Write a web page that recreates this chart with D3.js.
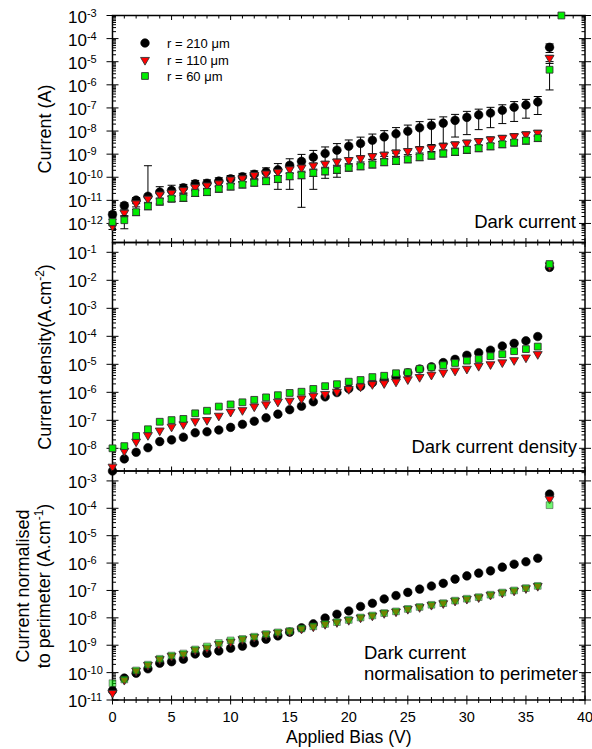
<!DOCTYPE html>
<html>
<head>
<meta charset="utf-8">
<script src="https://cdn.jsdelivr.net/npm/d3@7"></script>
<style>
  html, body { margin: 0; padding: 0; background: #fff; }
  svg text { font-family: "Liberation Sans", Arial, sans-serif; fill: #000; }
</style>
</head>
<body>
<svg id="chart" width="592" height="749"></svg>
<script>
// ---- Data -----------------------------------------------------------------
// Applied bias (V)
const bias = [0,1,2,3,4,5,6,7,8,9,10,11,12,13,14,15,16,17,18,19,20,
              21,22,23,24,25,26,27,28,29,30,31,32,33,34,35,36,37,38];

const seriesNames = ["r = 210 \u03bcm", "r = 110 \u03bcm", "r = 60 \u03bcm"];

// Dark current (A) with measurement spread (A); null = not measured
const currentR210 = [2.45e-12,6.0e-12,1.02e-11,1.5e-11,2.3e-11,2.7e-11,3.5e-11,5.2e-11,5.5e-11,6.8e-11,
  8.5e-11,1.05e-10,1.35e-10,1.7e-10,2.1e-10,3.3e-10,4.9e-10,7.4e-10,1.07e-9,1.48e-9,
  2.2e-9,2.9e-9,4.0e-9,5.6e-9,7.6e-9,9.8e-9,1.38e-8,1.74e-8,2.2e-8,2.9e-8,
  3.9e-8,5.0e-8,6.0e-8,7.9e-8,1.07e-7,1.35e-7,1.82e-7,4.2e-5,null];
const errR210 = [7e-13,1.8e-12,3e-12,3.0e-10,1.6e-11,1.8e-11,1.4e-11,2.1e-11,2.2e-11,2.7e-11,
  3.4e-11,4.2e-11,5.4e-11,8.5e-11,1.8e-10,3.0e-10,4.85e-10,7.1e-10,9.8e-10,1.38e-9,
  1.9e-9,2.55e-9,3.4e-9,4.8e-9,6.5e-9,8.3e-9,1.17e-8,1.48e-8,1.9e-8,2.35e-8,
  3.2e-8,3.85e-8,4.6e-8,5.8e-8,8.1e-8,9.9e-8,1.3e-7,1.7e-5,0];

const currentR110 = [7.8e-13,2.9e-12,7.4e-12,1.17e-11,1.78e-11,2.1e-11,2.75e-11,3.7e-11,4.4e-11,5.4e-11,
  7.9e-11,8.9e-11,1.23e-10,1.45e-10,1.7e-10,2.2e-10,2.6e-10,3.2e-10,3.8e-10,4.7e-10,
  5.5e-10,6.6e-10,8.1e-10,9.3e-10,1.15e-9,1.35e-9,1.6e-9,1.86e-9,2.2e-9,2.6e-9,
  3.1e-9,3.6e-9,4.3e-9,5.0e-9,5.9e-9,7.1e-9,8.3e-9,1.45e-5,null];
const errR110 = [2.3e-13,8.7e-13,2.2e-12,3.5e-12,5.3e-12,6.3e-12,8.3e-12,1.1e-11,1.3e-11,1.6e-11,
  2.4e-11,2.7e-11,3.7e-11,4.4e-11,5.1e-11,6.6e-11,7.8e-11,9.6e-11,1.1e-10,1.4e-10,
  1.65e-10,2.0e-10,2.4e-10,2.8e-10,3.5e-10,4.0e-10,4.8e-10,5.6e-10,6.6e-10,7.8e-10,
  9.3e-10,1.1e-9,1.3e-9,1.5e-9,1.8e-9,2.1e-9,2.5e-9,4.4e-6,0];

const currentR60 = [1.15e-12,1.38e-12,3.1e-12,5.6e-12,8.9e-12,1.2e-11,1.29e-11,2.1e-11,2.3e-11,3.2e-11,
  4.0e-11,4.9e-11,5.8e-11,6.8e-11,8.5e-11,1.12e-10,1.23e-10,1.55e-10,1.82e-10,2.1e-10,
  2.6e-10,3.0e-10,3.6e-10,4.5e-10,5.1e-10,6.0e-10,7.4e-10,8.7e-10,1.07e-9,1.26e-9,
  1.55e-9,1.82e-9,2.2e-9,2.7e-9,3.2e-9,3.9e-9,5.0e-9,4.5e-6,1e-3];
const errR60 = [3.5e-13,7.9e-13,9.3e-13,1.7e-12,2.7e-12,3.6e-12,3.9e-12,6.3e-12,6.9e-12,9.6e-12,
  1.2e-11,1.5e-11,1.7e-11,2.0e-11,2.6e-11,3.4e-11,3.7e-11,4.7e-11,5.5e-11,6.3e-11,
  7.8e-11,9.0e-11,1.1e-10,1.35e-10,1.5e-10,1.8e-10,2.2e-10,2.6e-10,3.2e-10,3.8e-10,
  4.7e-10,5.5e-10,6.6e-10,8.1e-10,9.6e-10,1.2e-9,1.5e-9,3.9e-6,0];

// Dark current density (A.cm^-2), 0 V to 37 V
const densityR210 = [1.55e-9,4.2e-9,7.2e-9,1.05e-8,1.74e-8,2.0e-8,2.5e-8,3.6e-8,3.9e-8,4.5e-8,
  5.6e-8,7.2e-8,9.3e-8,1.23e-7,1.66e-7,2.4e-7,3.2e-7,4.6e-7,6.9e-7,9.8e-7,
  1.35e-6,1.66e-6,2.2e-6,2.75e-6,3.6e-6,5.0e-6,6.8e-6,8.1e-6,1.15e-5,1.5e-5,
  2.1e-5,2.6e-5,3.2e-5,4.5e-5,5.6e-5,6.9e-5,9.8e-5,2.9e-2];
const densityR110 = [2.2e-9,8.1e-9,1.74e-8,2.95e-8,4.3e-8,5.9e-8,7.2e-8,9.3e-8,1.02e-7,1.45e-7,
  2.0e-7,2.3e-7,3.1e-7,3.7e-7,4.6e-7,5.0e-7,6.0e-7,7.4e-7,8.7e-7,1.05e-6,
  1.3e-6,1.6e-6,1.95e-6,2.1e-6,2.4e-6,2.9e-6,3.5e-6,4.2e-6,5.1e-6,5.9e-6,
  6.9e-6,8.7e-6,1.0e-5,1.17e-5,1.4e-5,1.74e-5,2.3e-5,3.4e-2];
const densityR60 = [1.0e-8,1.2e-8,2.75e-8,4.8e-8,8.9e-8,1.02e-7,1.12e-7,1.78e-7,2.2e-7,3.1e-7,
  3.7e-7,4.4e-7,5.4e-7,6.6e-7,7.9e-7,9.5e-7,1.05e-6,1.32e-6,1.66e-6,1.95e-6,
  2.4e-6,2.75e-6,3.5e-6,3.9e-6,4.8e-6,5.2e-6,6.8e-6,7.8e-6,9.3e-6,1.12e-5,
  1.35e-5,1.55e-5,1.95e-5,2.3e-5,2.95e-5,3.5e-5,4.3e-5,3.8e-2];

// Dark current normalised to perimeter (A.cm^-1), 0 V to 37 V
const perimR210 = [2.2e-11,6.3e-11,9.5e-11,1.38e-10,2.2e-10,2.5e-10,3.1e-10,4.8e-10,5.1e-10,6.2e-10,
  7.8e-10,9.3e-10,1.23e-9,1.66e-9,2.2e-9,3.0e-9,4.3e-9,6.0e-9,9.8e-9,1.35e-8,
  1.78e-8,2.6e-8,3.4e-8,4.9e-8,6.5e-8,8.5e-8,1.12e-7,1.45e-7,1.82e-7,2.6e-7,
  3.4e-7,4.3e-7,5.2e-7,7.1e-7,9.1e-7,1.12e-6,1.5e-6,3.3e-4];
const perimR110 = [1.8e-11,5.4e-11,1.17e-10,1.9e-10,3.1e-10,4.1e-10,4.8e-10,6.8e-10,8.1e-10,1.1e-9,
  1.35e-9,1.66e-9,2.0e-9,2.5e-9,2.9e-9,3.2e-9,4.0e-9,4.8e-9,5.9e-9,6.9e-9,
  8.3e-9,1.02e-8,1.2e-8,1.48e-8,1.7e-8,2.1e-8,2.45e-8,2.95e-8,3.4e-8,4.2e-8,
  4.9e-8,5.6e-8,6.9e-8,8.3e-8,9.8e-8,1.2e-7,1.45e-7,2.2e-4];
const perimR60 = [4.1e-11,5.6e-11,1.2e-10,1.95e-10,3.2e-10,4.2e-10,5.0e-10,7.0e-10,9.0e-10,1.2e-9,
  1.5e-9,1.7e-9,2.05e-9,2.55e-9,2.95e-9,3.3e-9,4.1e-9,4.9e-9,6.0e-9,7.0e-9,
  8.4e-9,1.03e-8,1.22e-8,1.5e-8,1.72e-8,2.12e-8,2.5e-8,3.0e-8,3.45e-8,4.25e-8,
  5.0e-8,5.7e-8,7.0e-8,8.4e-8,1.0e-7,1.22e-7,1.47e-7,1.3e-4];

// Axis ticks
const xTickLabels = [0,5,10,15,20,25,30,35,40];
const currentExps = [-3,-4,-5,-6,-7,-8,-9,-10,-11,-12];
const densityExps = [-1,-2,-3,-4,-5,-6,-7,-8];
const perimExps = [-3,-4,-5,-6,-7,-8,-9,-10,-11];

// ---- Layout -----------------------------------------------------------------
const svg = d3.select("#chart");
const x = d3.scaleLinear().domain([0, 40]).range([112.5, 585]);

const markerStyles = [
  { type: d3.symbolCircle, size: 58, fill: "#000000", rot: 0 },
  { type: d3.symbolTriangle, size: 34, fill: "#ff0000", rot: 180 },
  { type: d3.symbolSquare, size: 46, fill: "#00ee00", rot: 0 }
];

const panels = [
  { top: 15.5, bottom: 242.5, domain: [1.5e-13, 1e-3], exps: currentExps,
    values: [currentR210, currentR110, currentR60], errors: [errR210, errR110, errR60],
    topTicks: true, greenOpacity: 1 },
  { top: 242.5, bottom: 471, domain: [1.55e-9, 0.224], exps: densityExps,
    values: [densityR210, densityR110, densityR60], errors: null,
    topTicks: false, greenOpacity: 1 },
  { top: 471, bottom: 700, domain: [1e-11, 2.3e-3], exps: perimExps,
    values: [perimR210, perimR110, perimR60], errors: null,
    topTicks: false, greenOpacity: 0.55 }
];

function drawMarker(g, style, cx, cy, opacity) {
  g.append("path")
    .attr("d", d3.symbol().type(style.type).size(style.size)())
    .attr("transform", `translate(${cx},${cy}) rotate(${style.rot})`)
    .attr("fill", style.fill)
    .attr("fill-opacity", opacity)
    .attr("stroke", style.type === d3.symbolCircle ? "#000" : "#333")
    .attr("stroke-opacity", opacity)
    .attr("stroke-width", style.type === d3.symbolCircle ? 0.6 : 0.9);
}

panels.forEach(p => {
  const y = d3.scaleLog().domain(p.domain).range([p.bottom, p.top]);
  const g = svg.append("g");
  const x0 = x(0), x1 = x(40);

  // minor and major y ticks on both sides
  const lo = Math.floor(Math.log10(p.domain[0])), hi = Math.ceil(Math.log10(p.domain[1]));
  const ticks = g.append("g").attr("stroke", "#000").attr("stroke-width", 1);
  for (let d = lo; d <= hi; d++) {
    for (let k = 1; k <= 9; k++) {
      const v = k * Math.pow(10, d);
      if (v < p.domain[0] * 0.999 || v > p.domain[1] * 1.001) continue;
      const yy = y(v);
      if (k === 1) {
        ticks.append("line").attr("x1", x0 - 6).attr("x2", x0 + 6).attr("y1", yy).attr("y2", yy);
        ticks.append("line").attr("x1", x1 - 6).attr("x2", x1 + 6).attr("y1", yy).attr("y2", yy);
      } else {
        ticks.append("line").attr("x1", x0).attr("x2", x0 + 3.5).attr("y1", yy).attr("y2", yy);
        ticks.append("line").attr("x1", x1 - 3.5).attr("x2", x1).attr("y1", yy).attr("y2", yy);
      }
    }
  }

  // x ticks: crossing at the bottom edge, inward at the top of the first panel
  x.ticks(40).forEach(v => {
    const major = v % 5 === 0;
    const len = major ? 4.5 : 3;
    ticks.append("line").attr("x1", x(v)).attr("x2", x(v))
      .attr("y1", p.bottom - len).attr("y2", p.bottom + len);
    if (p.topTicks) {
      ticks.append("line").attr("x1", x(v)).attr("x2", x(v))
        .attr("y1", p.top).attr("y2", p.top + len);
    }
  });

  // frame
  g.append("rect")
    .attr("x", x0).attr("y", p.top)
    .attr("width", x1 - x0).attr("height", p.bottom - p.top)
    .attr("fill", "none").attr("stroke", "#000").attr("stroke-width", 1.5);

  // y tick labels 10^n
  p.exps.forEach(e => {
    const t = g.append("text").attr("x", 68).attr("y", y(Math.pow(10, e)) + 7);
    t.append("tspan").attr("font-size", 17).text("10");
    t.append("tspan").attr("font-size", 11).attr("dy", -6).text("-" + Math.abs(e));
  });

  // series: error bars then markers, one series after another
  p.values.forEach((vals, si) => {
    const style = markerStyles[si];
    const opacity = si === 2 ? p.greenOpacity : 1;
    const sg = g.append("g");
    if (p.errors) {
      const errs = p.errors[si];
      vals.forEach((v, i) => {
        const e = errs[i];
        if (v == null || !e) return;
        const cx = x(bias[i]);
        const yTop = y(v + e);
        const hasLow = v - e > 0;
        const yLow = hasLow ? y(v - e) : y(v);
        sg.append("line").attr("x1", cx).attr("x2", cx).attr("y1", yTop).attr("y2", yLow)
          .attr("stroke", "#000").attr("stroke-width", 1);
        sg.append("line").attr("x1", cx - 4).attr("x2", cx + 4).attr("y1", yTop).attr("y2", yTop)
          .attr("stroke", "#000").attr("stroke-width", 1);
        if (hasLow) {
          sg.append("line").attr("x1", cx - 4).attr("x2", cx + 4).attr("y1", yLow).attr("y2", yLow)
            .attr("stroke", "#000").attr("stroke-width", 1);
        }
      });
    }
    vals.forEach((v, i) => {
      if (v == null) return;
      drawMarker(sg, style, x(bias[i]), y(v), opacity);
    });
  });
});

// x tick labels and axis title
xTickLabels.forEach(v => {
  svg.append("text").attr("x", x(v)).attr("y", 722)
    .attr("text-anchor", "middle").attr("font-size", 14.5).text(v);
});
svg.append("text").attr("x", (x(0) + x(40)) / 2).attr("y", 743)
  .attr("text-anchor", "middle").attr("font-size", 17.5).text("Applied Bias (V)");

// y axis titles
svg.append("text").attr("transform", "translate(51,129) rotate(-90)")
  .attr("text-anchor", "middle").attr("font-size", 18).text("Current (A)");

const dTitle = svg.append("text").attr("transform", "translate(51,357) rotate(-90)")
  .attr("text-anchor", "middle").attr("font-size", 18);
dTitle.append("tspan").text("Current density(A.cm");
dTitle.append("tspan").attr("font-size", 12).attr("dy", -7).text("-2");
dTitle.append("tspan").attr("dy", 7).text(")");

svg.append("text").attr("transform", "translate(29,586) rotate(-90)")
  .attr("text-anchor", "middle").attr("font-size", 18).text("Current normalised");
const pTitle = svg.append("text").attr("transform", "translate(50,586) rotate(-90)")
  .attr("text-anchor", "middle").attr("font-size", 18);
pTitle.append("tspan").text("to perimeter (A.cm");
pTitle.append("tspan").attr("font-size", 12).attr("dy", -7).text("-1");
pTitle.append("tspan").attr("dy", 7).text(")");

// legend
const legendRows = [43, 60, 76];
seriesNames.forEach((name, i) => {
  drawMarker(svg, markerStyles[i], 145, legendRows[i], 1);
  svg.append("text").attr("x", 167).attr("y", legendRows[i] + 4.5)
    .attr("font-size", 13).text(name);
});

// panel notes
svg.append("text").attr("x", 576).attr("y", 228).attr("text-anchor", "end")
  .attr("font-size", 18.5).text("Dark current");
svg.append("text").attr("x", 577).attr("y", 453).attr("text-anchor", "end")
  .attr("font-size", 18.5).text("Dark current density");
svg.append("text").attr("x", 364).attr("y", 659)
  .attr("font-size", 18.5).text("Dark current");
svg.append("text").attr("x", 364).attr("y", 680)
  .attr("font-size", 18.5).text("normalisation to perimeter");
</script>
</body>
</html>
